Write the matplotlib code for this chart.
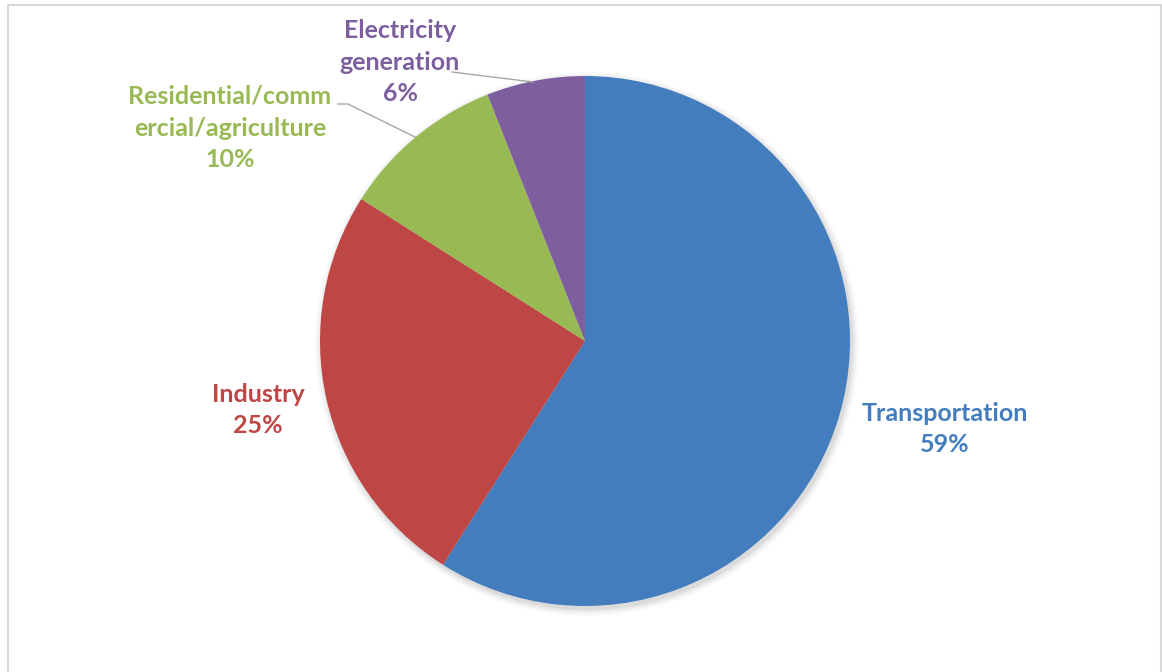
import matplotlib
matplotlib.use("Agg")
import matplotlib.pyplot as plt
from matplotlib.patches import Circle, Rectangle

# emission shares by sector
sectors = ["Transportation", "Industry", "Residential/comm\nercial/agriculture", "Electricity\ngeneration"]
shares = [59, 25, 10, 6]
colors = ["#437DBD", "#BE4644", "#98B954", "#7D5FA0"]

W, H = 1162, 672
fig = plt.figure(figsize=(W / 100, H / 100), dpi=100)
ax = fig.add_axes([0, 0, 1, 1])

cx, cy, r = 585, H - 341, 265

# soft shadow under the pie
for k, a in enumerate([0.05, 0.04, 0.03, 0.02]):
    ax.add_patch(Circle((cx + 2, cy - 3), r + 1 + 2 * k, color="#000000", alpha=a, lw=0, zorder=1))

wedges, _ = ax.pie(shares, colors=colors, startangle=90, counterclock=False,
                   center=(cx, cy), radius=r, frame=True,
                   wedgeprops=dict(linewidth=0))
for w in wedges:
    w.set_zorder(2)
ax.set_xlim(0, W)
ax.set_ylim(0, H)
ax.set_aspect("equal")
ax.axis("off")

# label positions (pixel coords, y from top)
label_pos = [(945, 429), (258, 410), (230, 128), (400, 62)]
for name, val, col, (lx, ly) in zip(sectors, shares, colors, label_pos):
    ax.text(lx, H - ly, f"{name}\n{val}%", color=col, ha="center", va="center",
            fontsize=18, fontweight="bold", family="Lato", linespacing=1.47, zorder=3)

# leader lines
ax.plot([338, 348, 415], [H - 104, H - 104, H - 137], color="#A6A6A6", lw=1, zorder=3)
ax.plot([452, 460, 533], [H - 72, H - 73, H - 82], color="#A6A6A6", lw=1, zorder=3)

# chart border
ax.add_patch(Rectangle((8, -5), 1153, H, fill=False, edgecolor="#D9D9D9", lw=1.5, zorder=4))

fig.savefig("out.png", dpi=100)
